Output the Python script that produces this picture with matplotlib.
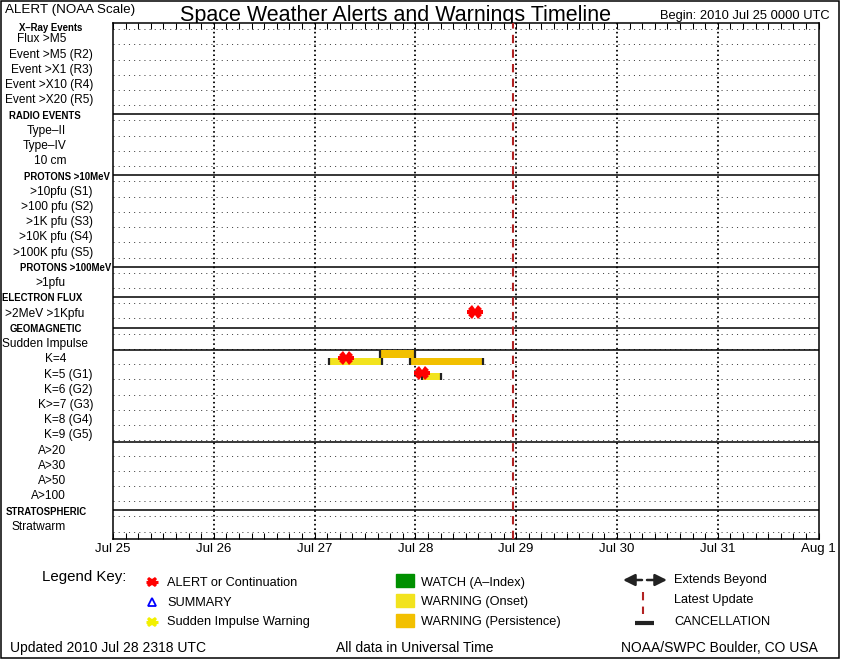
import matplotlib
matplotlib.use("Agg")
import matplotlib.pyplot as plt
import matplotlib.transforms as mtransforms
from matplotlib.patches import Rectangle
from matplotlib.ticker import MultipleLocator
import pandas as pd

plt.rcParams['font.family'] = ['Liberation Sans', 'DejaVu Sans']

# time frame of the chart
begin = pd.Timestamp("2010-07-25 00:00")
latest_update = pd.Timestamp("2010-07-28 23:18")
day_labels = ["Jul 25", "Jul 26", "Jul 27", "Jul 28", "Jul 29", "Jul 30", "Jul 31", "Aug 1"]

# row labels, top to bottom
rows = ["X\u2013Ray Events", "Flux >M5", "Event >M5 (R2)", "Event >X1 (R3)",
        "Event >X10 (R4)", "Event >X20 (R5)",
        "RADIO EVENTS", "Type\u2013II", "Type\u2013IV", "10 cm",
        "PROTONS >10MeV", ">10pfu (S1)", ">100 pfu (S2)", ">1K pfu (S3)",
        ">10K pfu (S4)", ">100K pfu (S5)",
        "PROTONS >100MeV", ">1pfu",
        "ELECTRON FLUX", ">2MeV >1Kpfu",
        "GEOMAGNETIC", "Sudden Impulse", "K=4", "K=5 (G1)", "K=6 (G2)",
        "K>=7 (G3)", "K=8 (G4)", "K=9 (G5)", "A>20", "A>30", "A>50", "A>100",
        "STRATOSPHERIC", "Stratwarm"]
headers = ["X\u2013Ray Events", "RADIO EVENTS", "PROTONS >10MeV", "PROTONS >100MeV",
           "ELECTRON FLUX", "GEOMAGNETIC", "STRATOSPHERIC"]
# right edge of each label in pixels (layout only)
label_right = [82, 66, 93, 93, 93, 93,
               81, 66, 66, 66,
               110, 93, 93, 93, 93, 93,
               111, 66,
               82, 84,
               82, 88, 66, 93, 93, 93, 93, 93, 66, 66, 66, 66,
               87, 66]
# extra solid separators inside the geomagnetic block
separators_after = ["Sudden Impulse", "K=9 (G5)"]

# warnings (bars)
warn_row = ["K=4", "K=4", "K=4", "K=5 (G1)"]
warn_start = ["2010-07-27 03:20", "2010-07-27 15:40", "2010-07-27 22:45", "2010-07-28 01:40"]
warn_end = ["2010-07-27 16:00", "2010-07-28 00:00", "2010-07-28 16:00", "2010-07-28 06:00"]
warn_kind = ["onset", "persistence", "persistence", "onset"]
warn_level = [0, 1, 0, 0]

# alerts (red stars)
alert_row = ["K=4", "K=5 (G1)", ">2MeV >1Kpfu"]
alert_time = ["2010-07-27 07:30", "2010-07-28 01:40", "2010-07-28 14:15"]

kind_color = {"onset": "#F2E31E", "persistence": "#F2C000", "watch": "#009000"}


def to_day(t):
    return (pd.Timestamp(t) - begin) / pd.Timedelta(days=1)


def star(axis, xs, ys, color, size):
    # blocky asterisk like the NOAA marker
    axis.plot(xs, ys, ls="none", marker="X", ms=size, mew=0, color=color, zorder=5)
    axis.plot(xs, ys, ls="none", marker="_", ms=size * 1.2, mew=size * 0.3,
              color=color, zorder=5)


W, H = 842, 660
fig = plt.figure(figsize=(W / 100, H / 100), dpi=100)

bg = fig.add_axes([0, 0, 1, 1])
bg.set_xlim(0, W)
bg.set_ylim(H, 0)
bg.axis("off")

left, right, top, bottom = 113, 818.5, 23, 539.3
ax = fig.add_axes([left / W, 1 - bottom / H, (right - left) / W, (bottom - top) / H])
ax.set_xlim(0, 7)
ax.set_ylim(33.9, 0)

# grid: dotted row lines, solid section lines, dotted day lines
for i in range(len(rows)):
    ax.axhline(i + 0.4, color="#444444", lw=0.7, dashes=(1.1, 4.2), zorder=1)
for name in headers[1:]:
    ax.axhline(rows.index(name), color="black", lw=1.1, zorder=2)
for name in separators_after:
    ax.axhline(rows.index(name) + 0.5, color="black", lw=1.1, zorder=2)
for d in range(1, 7):
    ax.axvline(d, color="black", lw=1.3, dashes=(0.9, 1.6), zorder=2)

# warning bars
for r, s, e, k, lv in zip(warn_row, warn_start, warn_end, warn_kind, warn_level):
    y = rows.index(r)
    x0, x1 = to_day(s), to_day(e)
    if lv == 0:
        y0, h = y, 0.43
    else:
        y0, h = y - 0.5, 0.5
    ax.barh(y0, x1 - x0, left=x0, height=h, align="edge",
            color=kind_color[k], edgecolor="none", zorder=3)
    ax.vlines([x0, x1], y0, y0 + h, color="#222222", lw=1.6, zorder=4)

# alerts
star(ax, [to_day(t) for t in alert_time], [rows.index(r) for r in alert_row], "red", 9.5)

# latest update
ax.axvline(to_day(latest_update), color="#B22222", lw=1.5, dashes=(4, 3), zorder=4)

# axes styling
ax.set_yticks([])
ax.set_xticks(range(8))
ax.set_xticklabels(day_labels, fontsize=9.5)
ax.xaxis.set_minor_locator(MultipleLocator(0.125))
ax.tick_params(axis="x", which="both", direction="in", top=True, bottom=True,
               length=4.5, width=0.75, pad=3)
for sp in ax.spines.values():
    sp.set_linewidth(1.1)

# row labels
trans = mtransforms.blended_transform_factory(bg.transData, ax.transData)
for i, (name, rx) in enumerate(zip(rows, label_right)):
    yy = 0.35 if i == 0 else i + 0.08
    if name in headers:
        ax.text(rx, yy, name, transform=trans, ha="right", va="center",
                fontsize=6.9, fontweight="bold")
    else:
        ax.text(rx, yy, name, transform=trans, ha="right", va="center", fontsize=8.6)

# titles
bg.text(5, 10, "ALERT (NOAA Scale)", fontsize=9.6, ha="left", va="center")
bg.text(396, 15, "Space Weather Alerts and Warnings Timeline", fontsize=15.5,
        ha="center", va="center")
bg.text(660, 16, "Begin: 2010 Jul 25 0000 UTC", fontsize=9.3, ha="left", va="center")

# legend key
bg.text(42, 577, "Legend Key:", fontsize=10.8, ha="left", va="center")
star(bg, [152], [582], "red", 7.5)
bg.plot([152], [602], ls="none", marker="^", ms=6, mfc="none", mec="blue", mew=1.3)
star(bg, [152], [622], "#F2F000", 7.5)
bg.text(167, 583, "ALERT or Continuation", fontsize=9.2, va="center")
bg.text(167, 603, "SUMMARY", fontsize=9.2, va="center")
bg.text(167, 622, "Sudden Impulse Warning", fontsize=9.2, va="center")

for yy, k in zip([574, 594, 614], ["watch", "onset", "persistence"]):
    bg.add_patch(Rectangle((396, yy), 17.5, 13, color=kind_color[k]))
bg.text(421, 583, "WATCH (A\u2013Index)", fontsize=9.2, va="center")
bg.text(421, 602, "WARNING (Onset)", fontsize=9.2, va="center")
bg.text(421, 622, "WARNING (Persistence)", fontsize=9.2, va="center")

bg.annotate("", xy=(623, 580), xytext=(642, 580),
            arrowprops=dict(arrowstyle="-|>,head_width=0.35,head_length=0.7",
                            color="#222222", lw=1.8, shrinkA=0, shrinkB=0))
bg.annotate("", xy=(667, 580), xytext=(647, 580),
            arrowprops=dict(arrowstyle="-|>,head_width=0.35,head_length=0.7",
                            color="#222222", lw=1.8, shrinkA=0, shrinkB=0))
bg.plot([643, 643], [592, 614], color="#B22222", lw=1.5, dashes=(4, 3))
bg.plot([635, 654], [622.5, 622.5], color="#222222", lw=3, solid_capstyle="butt")
bg.text(674, 580, "Extends Beyond", fontsize=9.2, va="center")
bg.text(674, 600, "Latest Update", fontsize=9.2, va="center")
bg.text(674, 622, "CANCELLATION", fontsize=9.2, va="center")

# footer
bg.text(10, 648, "Updated 2010 Jul 28 2318 UTC", fontsize=10, va="center")
bg.text(336, 648, "All data in Universal Time", fontsize=10, va="center")
bg.text(621, 648, "NOAA/SWPC Boulder, CO USA", fontsize=10, va="center")

# outer frame
bg.add_patch(Rectangle((0.8, 0.8), 838, 657.5, fill=False, ec="black", lw=1.1))

fig.savefig("out.png", dpi=100)
